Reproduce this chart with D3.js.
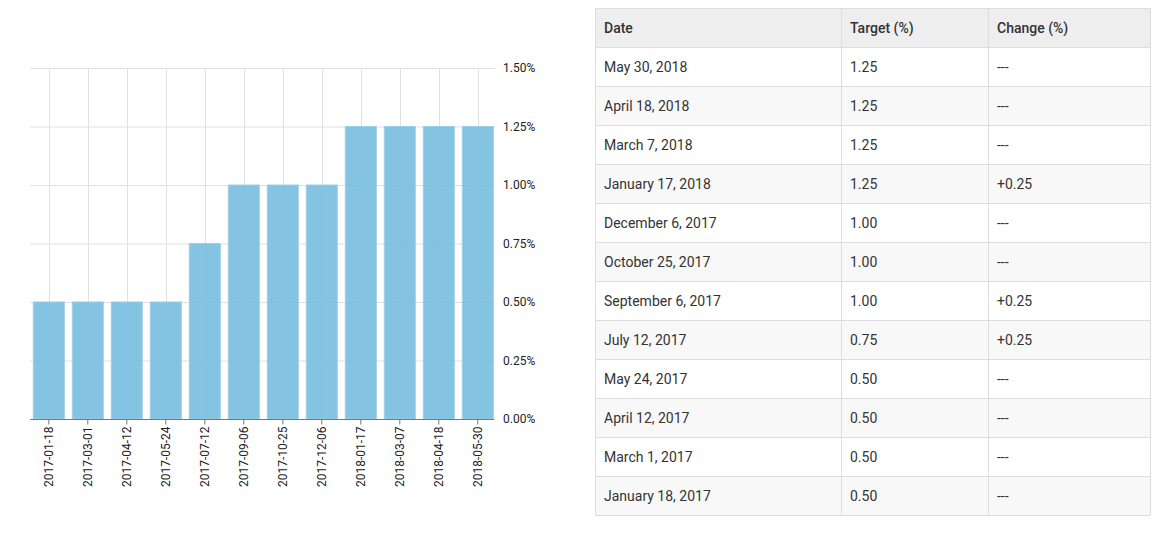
<!DOCTYPE html>
<html>
<head>
<meta charset="utf-8">
<script src="https://cdn.jsdelivr.net/npm/d3@7"></script>
<style>
  body { margin: 0; background: #fff; font-family: Roboto, "Noto Sans", sans-serif; }
  svg text { font-family: Roboto, "Noto Sans", sans-serif; }
</style>
</head>
<body>
<svg id="chart" width="1173" height="550"></svg>
<script>
// meeting dates and target rates (%)
const dates = ['2017-01-18', '2017-03-01', '2017-04-12', '2017-05-24', '2017-07-12', '2017-09-06',
	'2017-10-25', '2017-12-06', '2018-01-17', '2018-03-07', '2018-04-18', '2018-05-30'];
const targets = [0.50, 0.50, 0.50, 0.50, 0.75, 1.00, 1.00, 1.00, 1.25, 1.25, 1.25, 1.25];
const changes = ['---', '---', '---', '---', '+0.25', '+0.25', '---', '---', '+0.25', '---', '---', '---'];
const yTicks = [0, 0.25, 0.5, 0.75, 1.0, 1.25, 1.5];
const headers = ['Date', 'Target (%)', 'Change (%)'];

const svg = d3.select('#chart');

// ---- bar chart ----
const x = d3.scaleBand()
	.domain(dates)
	.range([29.3, 497.3])
	.paddingInner(8 / 39)
	.paddingOuter(4 / 39);

const y = d3.scaleLinear()
	.domain([0, 1.5])
	.range([419, 68]);

const grid = svg.append('g').attr('class', 'grid');

grid.selectAll('line.h')
	.data(yTicks)
	.enter().append('line')
	.attr('class', 'h')
	.attr('x1', 30).attr('x2', 495)
	.attr('y1', d => y(d) + 0.5).attr('y2', d => y(d) + 0.5)
	.attr('stroke', '#e0e0e0');

grid.selectAll('line.v')
	.data(dates)
	.enter().append('line')
	.attr('class', 'v')
	.attr('x1', d => Math.round(x(d) + x.bandwidth() / 2) + 0.5)
	.attr('x2', d => Math.round(x(d) + x.bandwidth() / 2) + 0.5)
	.attr('y1', y(1.5)).attr('y2', y(0))
	.attr('stroke', '#e0e0e0');

// bars slightly see-through so the grid shows faintly
svg.append('g').selectAll('rect')
	.data(dates)
	.enter().append('rect')
	.attr('x', d => x(d))
	.attr('y', (d, i) => y(targets[i]))
	.attr('width', x.bandwidth())
	.attr('height', (d, i) => y(0) - y(targets[i]))
	.attr('fill', '#78bcdf')
	.attr('fill-opacity', 0.9)
	.attr('stroke', '#9ccfe8')
	.attr('stroke-width', 1);

// y labels on the right
const yAxis = d3.axisRight(y)
	.tickValues(yTicks)
	.tickSize(0)
	.tickPadding(0)
	.tickFormat(d => d3.format('.2f')(d) + '%');

svg.append('g')
	.attr('transform', 'translate(503,0)')
	.call(yAxis)
	.call(g => g.select('.domain').remove())
	.selectAll('text')
	.attr('fill', '#222')
	.style('font-size', '12px');

// x axis
const xAxis = d3.axisBottom(x).tickSize(5).tickSizeOuter(0);
svg.append('g')
	.attr('transform', 'translate(0,419.5)')
	.call(xAxis)
	.call(g => g.select('.domain').attr('d', 'M30,0H494').attr('stroke', '#777'))
	.call(g => g.selectAll('.tick line').attr('stroke', '#777'))
	.selectAll('text')
	.attr('fill', '#222')
	.style('font-size', '12px')
	.attr('text-anchor', 'end')
	.attr('transform', 'rotate(-90)')
	.attr('x', -7)
	.attr('y', 0)
	.attr('dy', '0.35em');

// ---- table ----
const colX = [595, 841, 988, 1150];
const rowH = 39;
const tableTop = 8;
const fmt = d3.timeFormat('%B %-d, %Y');
const parse = d3.timeParse('%Y-%m-%d');

const rows = dates.map((d, i) => [fmt(parse(d)), targets[i].toFixed(2), changes[i]]).reverse();

const table = svg.append('g').attr('class', 'table');

table.append('rect')
	.attr('x', colX[0]).attr('y', tableTop)
	.attr('width', colX[3] - colX[0]).attr('height', rowH)
	.attr('fill', '#eeeeee');

table.selectAll('rect.stripe')
	.data(rows)
	.enter().append('rect')
	.attr('class', 'stripe')
	.attr('x', colX[0]).attr('y', (d, i) => tableTop + (i + 1) * rowH)
	.attr('width', colX[3] - colX[0]).attr('height', rowH)
	.attr('fill', (d, i) => i % 2 ? '#f8f8f8' : '#fff');

// borders
const nRows = rows.length + 1;
table.selectAll('line.rl')
	.data(d3.range(nRows + 1))
	.enter().append('line')
	.attr('x1', colX[0]).attr('x2', colX[3])
	.attr('y1', i => tableTop + i * rowH + 0.5).attr('y2', i => tableTop + i * rowH + 0.5)
	.attr('stroke', '#dddddd');

table.selectAll('line.cl')
	.data(colX)
	.enter().append('line')
	.attr('x1', d => d + 0.5).attr('x2', d => d + 0.5)
	.attr('y1', tableTop).attr('y2', tableTop + nRows * rowH + 0.5)
	.attr('stroke', '#dddddd');

table.selectAll('text.hd')
	.data(headers)
	.enter().append('text')
	.attr('x', (d, i) => colX[i] + 9)
	.attr('y', tableTop + rowH / 2 + 1)
	.attr('dy', '0.35em')
	.style('font-size', '14px')
	.style('font-weight', 500)
	.attr('fill', '#333')
	.text(d => d);

rows.forEach((r, ri) => {
	table.selectAll(null)
		.data(r)
		.enter().append('text')
		.attr('x', (d, i) => colX[i] + 9)
		.attr('y', tableTop + (ri + 1) * rowH + rowH / 2 + 1)
		.attr('dy', '0.35em')
		.style('font-size', '14px')
		.attr('fill', '#333')
		.text(d => d);
});
</script>
</body>
</html>
